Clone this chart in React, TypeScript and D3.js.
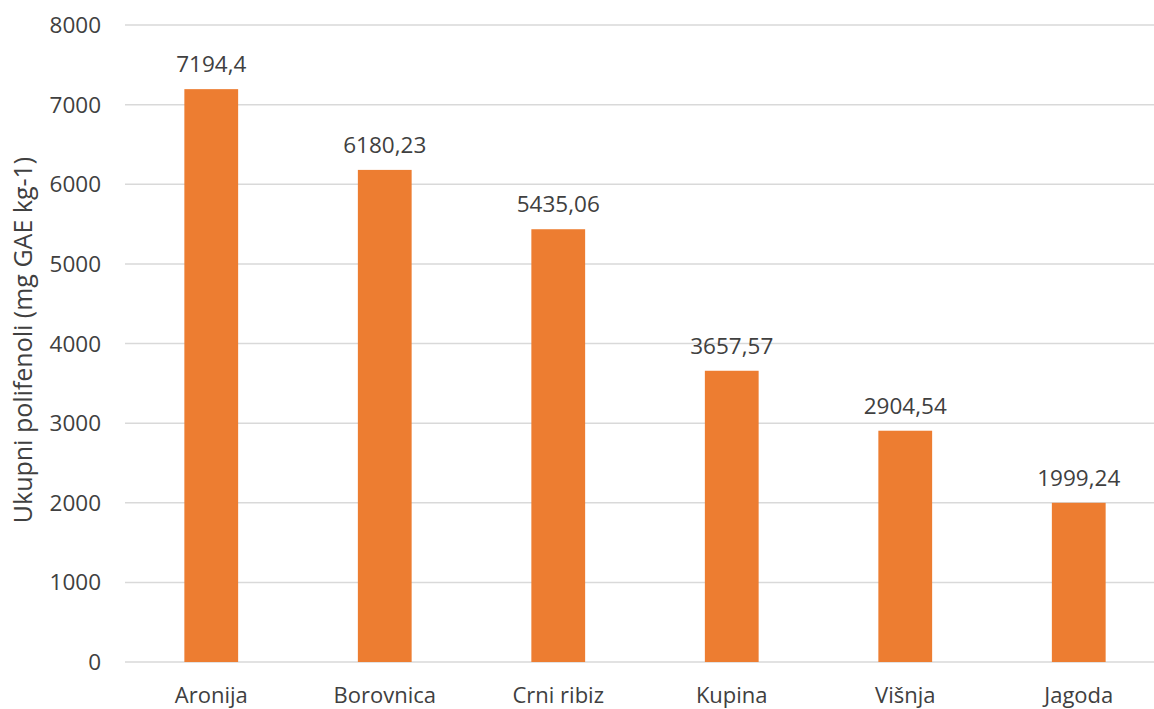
import React from "react";
import * as d3 from "d3";

const categories = ["Aronija", "Borovnica", "Crni ribiz", "Kupina", "Višnja", "Jagoda"];
const values = [7194.4, 6180.23, 5435.06, 3657.57, 2904.54, 1999.24];
const valueLabels = ["7194,4", "6180,23", "5435,06", "3657,57", "2904,54", "1999,24"];
const yTicks = [0, 1000, 2000, 3000, 4000, 5000, 6000, 7000, 8000];
const yTitle = "Ukupni polifenoli (mg GAE kg-1)";

const W = 1154;
const H = 709;

export default function App() {
  const x = d3
    .scaleBand<string>()
    .domain(categories)
    .range([124.5, 1165.5])
    .paddingInner(0.69)
    .paddingOuter(0.345);
  const y = d3.scaleLinear().domain([0, 8000]).range([662, 25]);
  const font = "'Open Sans', 'Noto Sans', sans-serif";
  const textColor = "#404040";

  return (
    <svg
      width={W}
      height={H}
      style={{ position: "absolute", left: 0, top: 0, background: "#fff" }}
      fontFamily={font}
    >
      <rect x={0} y={0} width={W} height={H} fill="#fff" />
      {yTicks.map((t) => (
        <g key={t}>
          <line x1={125} x2={W} y1={y(t)} y2={y(t)} stroke="#d9d9d9" strokeWidth={1.5} />
          <text
            x={101}
            y={y(t)}
            dy="0.36em"
            textAnchor="end"
            fontSize={22.5}
            fill={textColor}
          >
            {t}
          </text>
        </g>
      ))}
      {categories.map((c, i) => (
        <g key={c}>
          <rect
            x={x(c)}
            y={y(values[i])}
            width={x.bandwidth()}
            height={y(0) - y(values[i])}
            fill="#ED7D31"
          />
          <text
            x={(x(c) as number) + x.bandwidth() / 2}
            y={y(values[i]) - 17}
            textAnchor="middle"
            fontSize={22.5}
            fill={textColor}
          >
            {valueLabels[i]}
          </text>
          <text
            x={(x(c) as number) + x.bandwidth() / 2}
            y={703}
            textAnchor="middle"
            fontSize={22}
            fill={textColor}
          >
            {c}
          </text>
        </g>
      ))}
      <text
        transform={`translate(23, 340) rotate(-90)`}
        textAnchor="middle"
        dy="0.35em"
        fontSize={25}
        fill={textColor}
      >
        {yTitle}
      </text>
    </svg>
  );
}
